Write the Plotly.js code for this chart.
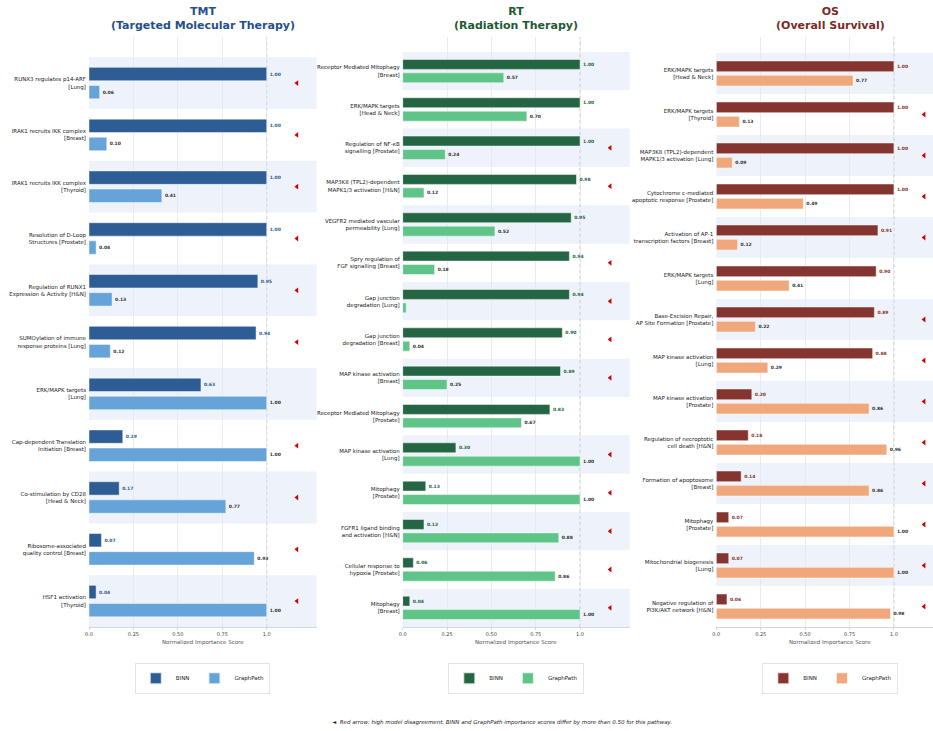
<!DOCTYPE html>
<html>
<head>
<meta charset="utf-8">
<script src="https://cdn.plot.ly/plotly-3.0.1.min.js"></script>
<style>html,body{margin:0;padding:0;background:#fff;}#chart{width:933px;height:731px;}</style>
</head>
<body>
<div id="chart"></div>
<script>
// ---------- DATA ----------
const tmtLabels = [
  "RUNX3 regulates p14-ARF<br>[Lung]",
  "IRAK1 recruits IKK complex<br>[Breast]",
  "IRAK1 recruits IKK complex<br>[Thyroid]",
  "Resolution of D-Loop<br>Structures [Prostate]",
  "Regulation of RUNX1<br>Expression & Activity [H&N]",
  "SUMOylation of immune<br>response proteins [Lung]",
  "ERK/MAPK targets<br>[Lung]",
  "Cap-dependent Translation<br>Initiation [Breast]",
  "Co-stimulation by CD28<br>[Head & Neck]",
  "Ribosome-associated<br>quality control [Breast]",
  "HSF1 activation<br>[Thyroid]"
];
const tmtBINN = [1.00, 1.00, 1.00, 1.00, 0.95, 0.94, 0.63, 0.19, 0.17, 0.07, 0.04];
const tmtGraphPath = [0.06, 0.10, 0.41, 0.04, 0.13, 0.12, 1.00, 1.00, 0.77, 0.93, 1.00];

const rtLabels = [
  "Receptor Mediated Mitophagy<br>[Breast]",
  "ERK/MAPK targets<br>[Head & Neck]",
  "Regulation of NF-κB<br>signalling [Prostate]",
  "MAP3K8 (TPL2)-dependent<br>MAPK1/3 activation [H&N]",
  "VEGFR2 mediated vascular<br>permeability [Lung]",
  "Spry regulation of<br>FGF signalling [Breast]",
  "Gap junction<br>degradation [Lung]",
  "Gap junction<br>degradation [Breast]",
  "MAP kinase activation<br>[Breast]",
  "Receptor Mediated Mitophagy<br>[Prostate]",
  "MAP kinase activation<br>[Lung]",
  "Mitophagy<br>[Prostate]",
  "FGFR1 ligand binding<br>and activation [H&N]",
  "Cellular response to<br>hypoxia [Prostate]",
  "Mitophagy<br>[Breast]"
];
const rtBINN = [1.00, 1.00, 1.00, 0.98, 0.95, 0.94, 0.94, 0.90, 0.89, 0.83, 0.30, 0.13, 0.12, 0.06, 0.04];
const rtGraphPath = [0.57, 0.70, 0.24, 0.12, 0.52, 0.18, 0.02, 0.04, 0.25, 0.67, 1.00, 1.00, 0.88, 0.86, 1.00];

const osLabels = [
  "ERK/MAPK targets<br>[Head & Neck]",
  "ERK/MAPK targets<br>[Thyroid]",
  "MAP3K8 (TPL2)-dependent<br>MAPK1/3 activation [Lung]",
  "Cytochrome c-mediated<br>apoptotic response [Prostate]",
  "Activation of AP-1<br>transcription factors [Breast]",
  "ERK/MAPK targets<br>[Lung]",
  "Base-Excision Repair,<br>AP Site Formation [Prostate]",
  "MAP kinase activation<br>[Lung]",
  "MAP kinase activation<br>[Prostate]",
  "Regulation of necroptotic<br>cell death [H&N]",
  "Formation of apoptosome<br>[Breast]",
  "Mitophagy<br>[Prostate]",
  "Mitochondrial biogenesis<br>[Lung]",
  "Negative regulation of<br>PI3K/AKT network [H&N]"
];
const osBINN = [1.00, 1.00, 1.00, 1.00, 0.91, 0.90, 0.89, 0.88, 0.20, 0.18, 0.14, 0.07, 0.07, 0.06];
const osGraphPath = [0.77, 0.13, 0.09, 0.49, 0.12, 0.41, 0.22, 0.29, 0.86, 0.96, 0.86, 1.00, 1.00, 0.98];

const xTickVals = [0, 0.25, 0.5, 0.75, 1.0];
const xTickText = ["0.0", "0.25", "0.50", "0.75", "1.0"];
const seriesNames = ["BINN", "GraphPath"];
const disagreementThreshold = 0.5;

// ---------- STYLE ----------
const FONT = "DejaVu Sans, Verdana, sans-serif";
const panels = [
  {key:"tmt", title:"TMT<br>(Targeted Molecular Therapy)", titleColor:"#24508c",
   labels:tmtLabels, a:tmtBINN, b:tmtGraphPath, ca:"#2e5d95", cb:"#66a3d9", la:"#2e5d95",
   px0:89, px1:316.5, range:1.28, center:202.5, legend:"legend"},
  {key:"rt", title:"RT<br>(Radiation Therapy)", titleColor:"#1f5a34",
   labels:rtLabels, a:rtBINN, b:rtGraphPath, ca:"#246643", cb:"#5ec488", la:"#246643",
   px0:402.7, px1:629.7, range:1.28, center:516, legend:"legend2"},
  {key:"os", title:"OS<br>(Overall Survival)", titleColor:"#7b2a25",
   labels:osLabels, a:osBINN, b:osGraphPath, ca:"#843530", cb:"#f0a77c", la:"#843530",
   px0:716.3, px1:933, range:1.22, center:830, legend:"legend3"}
];

const W = 933, H = 731;
const plotTop = 37, plotBottom = 627;
const data = [];
const shapes = [];
const annotations = [];
const layout = {
  width: W, height: H,
  margin: {l:0, r:0, t:0, b:0},
  paper_bgcolor: "#fff", plot_bgcolor: "rgba(0,0,0,0)",
  barmode: "group", bargap: 0.3, bargroupgap: 0.26,
  font: {family: FONT, size: 6, color: "#222"},
  showlegend: true,
  hovermode: false
};

const fmt = v => v >= 0.03 ? "<b>" + v.toFixed(2) + "</b>" : "";

panels.forEach((p, k) => {
  const xa = k === 0 ? "x" : "x" + (k+1);
  const ya = k === 0 ? "y" : "y" + (k+1);
  const n = p.labels.length;
  const idx = p.labels.map((_, i) => i);

  layout["xaxis" + (k === 0 ? "" : k+1)] = {
    domain: [p.px0 / W, p.px1 / W],
    anchor: ya,
    range: [0, p.range],
    tickvals: xTickVals, ticktext: xTickText,
    tickfont: {size: 5, color: "#444", family: FONT},
    ticks: "outside", ticklen: 2, tickcolor: "#bbb", tickwidth: 0.6,
    showgrid: true, gridcolor: "#e6e6e6", gridwidth: 0.8,
    showline: true, linecolor: "#cccccc", linewidth: 0.8,
    zeroline: false, fixedrange: true, automargin: false
  };
  layout["yaxis" + (k === 0 ? "" : k+1)] = {
    domain: [(H - plotBottom) / H, (H - plotTop) / H],
    anchor: xa,
    range: [n - 0.5, -0.89],
    tickvals: idx, ticktext: p.labels,
    tickfont: {size: 5.5, color: "#1a1a1a", family: FONT},
    ticks: "", showgrid: false, zeroline: false, showline: false,
    ticklabelstandoff: 2,
    fixedrange: true, automargin: false
  };

  // alternating background bands
  idx.forEach(i => {
    if (i % 2 === 0) {
      shapes.push({type:"rect", xref: xa + " domain", yref: ya, x0: 0, x1: 1,
        y0: i - 0.5, y1: i + 0.5, fillcolor: "#eef2fa", line: {width: 0}, layer: "below"});
    }
  });
  // reference line at 1.0
  shapes.push({type:"line", xref: xa, yref: ya + " domain", x0: 1, x1: 1, y0: 0, y1: 1,
    line: {color: "#b5b5b5", width: 0.8, dash: "dot"}, layer: "below"});

  data.push({
    type: "bar", orientation: "h", name: seriesNames[0],
    x: p.a, y: idx, xaxis: xa, yaxis: ya,
    marker: {color: p.ca, line: {color: "rgba(255,255,255,0.8)", width: 0.6}},
    text: p.a.map(fmt), textposition: "outside", cliponaxis: false,
    constraintext: "none",
    textfont: {size: 4.5, color: p.la, family: FONT},
    legend: p.legend
  });
  data.push({
    type: "bar", orientation: "h", name: seriesNames[1],
    x: p.b, y: idx, xaxis: xa, yaxis: ya,
    marker: {color: p.cb, line: {color: "rgba(255,255,255,0.8)", width: 0.6}},
    text: p.b.map(fmt), textposition: "outside", cliponaxis: false,
    constraintext: "none",
    textfont: {size: 4.5, color: "#333", family: FONT},
    legend: p.legend
  });
  // disagreement arrows
  const arrowY = idx.filter(i => Math.abs(p.a[i] - p.b[i]) > disagreementThreshold);
  data.push({
    type: "scatter", mode: "markers", x: arrowY.map(() => 1.17), y: arrowY,
    xaxis: xa, yaxis: ya, showlegend: false, cliponaxis: false,
    marker: {symbol: "triangle-left", size: 5, color: "#d40000", line: {width: 0}}
  });

  layout[p.legend] = {
    x: p.center / W, y: (H - 678.5) / H, xanchor: "center", yanchor: "middle",
    orientation: "h", bgcolor: "#fff", bordercolor: "#dddddd", borderwidth: 0.8,
    font: {size: 5.5, family: FONT, color: "#222"},
    itemwidth: 30, itemsizing: "constant", tracegroupgap: 0
  };

  // panel title
  annotations.push({xref: "paper", yref: "paper", x: p.center / W, y: (H - 18.5) / H,
    xanchor: "center", yanchor: "middle", showarrow: false,
    text: "<b>" + p.title + "</b>",
    font: {size: 11, color: p.titleColor, family: FONT}});
  // x axis title
  annotations.push({xref: "paper", yref: "paper", x: p.center / W, y: (H - 642) / H,
    xanchor: "center", yanchor: "middle", showarrow: false,
    text: "Normalized Importance Score",
    font: {size: 5.5, color: "#555", family: FONT}});
});

annotations.push({xref: "paper", yref: "paper", x: 502 / W, y: (H - 722) / H,
  xanchor: "center", yanchor: "middle", showarrow: false,
  text: "<i>◄  Red arrow: high model disagreement. BINN and GraphPath importance scores differ by more than 0.50 for this pathway.</i>",
  font: {size: 5.5, color: "#222", family: FONT}});

layout.shapes = shapes;
layout.annotations = annotations;

Plotly.newPlot("chart", data, layout, {displayModeBar: false, staticPlot: true});
</script>
</body>
</html>
